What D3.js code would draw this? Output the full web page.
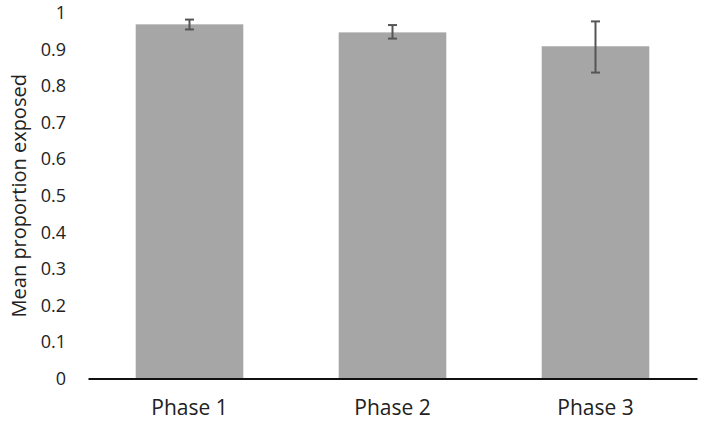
<!DOCTYPE html>
<html>
<head>
<meta charset="utf-8">
<script src="https://cdn.jsdelivr.net/npm/d3@7"></script>
<style>
  body { margin: 0; background: #fff; }
  svg text { font-family: "Open Sans", sans-serif; fill: #222; }
</style>
</head>
<body>
<svg id="chart" width="706" height="423"></svg>
<script>
const phases = ["Phase 1", "Phase 2", "Phase 3"];
const means = [0.969, 0.947, 0.909];
const errLow = [0.955, 0.930, 0.837];
const errHigh = [0.982, 0.967, 0.977];
const yTicks = [0, 0.1, 0.2, 0.3, 0.4, 0.5, 0.6, 0.7, 0.8, 0.9, 1];

const svg = d3.select("#chart");
const plotLeft = 88, plotRight = 697, plotTop = 13, plotBottom = 378.5;

const x = d3.scaleBand().domain(phases).range([plotLeft, plotRight])
    .paddingInner(0.47).paddingOuter(0.235);
const y = d3.scaleLinear().domain([0, 1]).range([plotBottom, plotTop]);

// bars
svg.selectAll("rect.bar").data(phases).enter().append("rect")
    .attr("class", "bar")
    .attr("x", d => x(d))
    .attr("y", (d, i) => y(means[i]))
    .attr("width", x.bandwidth())
    .attr("height", (d, i) => y(0) - y(means[i]))
    .attr("fill", "#a6a6a6");

// error bars
const eb = svg.append("g").attr("stroke", "#555").attr("stroke-width", 2);
phases.forEach((p, i) => {
  const cx = x(p) + x.bandwidth() / 2;
  eb.append("line").attr("x1", cx).attr("x2", cx).attr("y1", y(errLow[i])).attr("y2", y(errHigh[i]));
  eb.append("line").attr("x1", cx - 4.5).attr("x2", cx + 4.5).attr("y1", y(errLow[i])).attr("y2", y(errLow[i]));
  eb.append("line").attr("x1", cx - 4.5).attr("x2", cx + 4.5).attr("y1", y(errHigh[i])).attr("y2", y(errHigh[i]));
});

// y axis labels (no line)
const yAxis = svg.append("g").attr("transform", `translate(${plotLeft},0)`)
    .call(d3.axisLeft(y).tickValues(yTicks).tickSize(0).tickPadding(22)
      .tickFormat(d => d === 0 ? "0" : d === 1 ? "1" : d3.format(".1f")(d)));
yAxis.select(".domain").remove();
yAxis.selectAll("text").style("font-size", "18px").attr("fill", "#222");

// x axis
const xAxis = svg.append("g").attr("transform", `translate(0,${plotBottom})`)
    .call(d3.axisBottom(x).tickSize(0).tickPadding(22));
xAxis.select(".domain").attr("stroke", "#111").attr("stroke-width", 2);
xAxis.selectAll("text").style("font-size", "21px").attr("fill", "#222");

svg.append("text")
    .attr("transform", `translate(26,${(plotTop + plotBottom) / 2}) rotate(-90)`)
    .attr("text-anchor", "middle")
    .style("font-size", "20px")
    .text("Mean proportion exposed");
</script>
</body>
</html>
